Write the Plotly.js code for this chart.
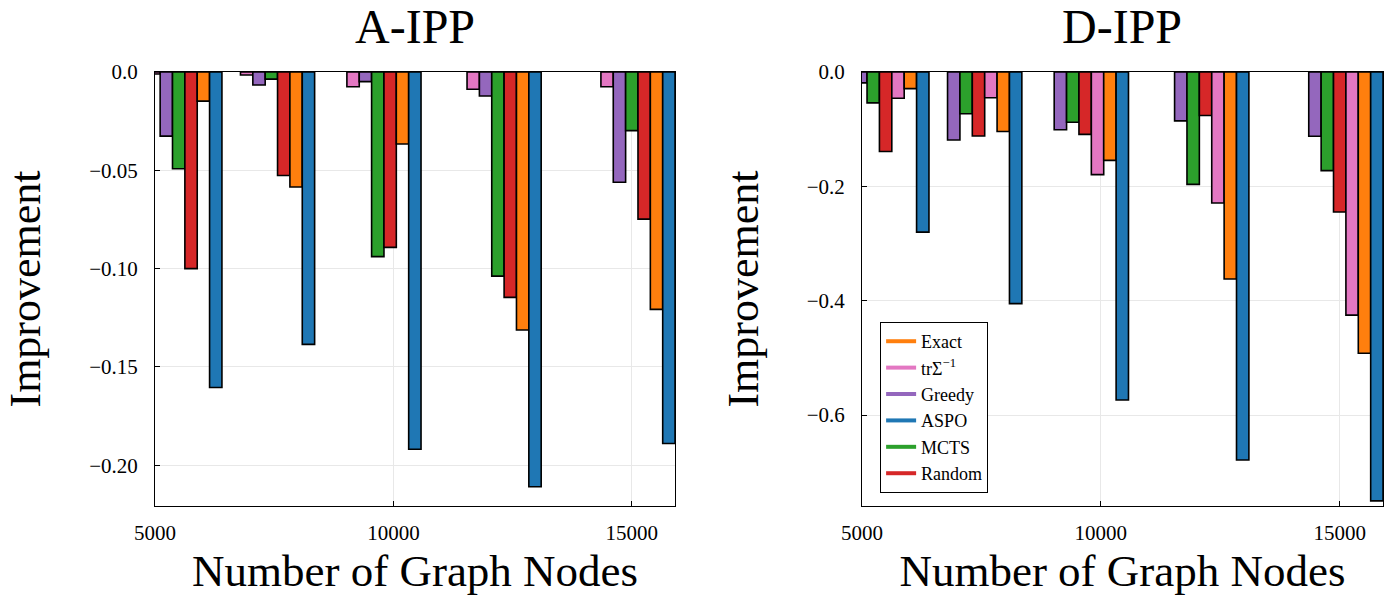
<!DOCTYPE html>
<html>
<head>
<meta charset="utf-8">
<script src="https://cdn.plot.ly/plotly-3.0.1.min.js"></script>
<style>html,body{margin:0;padding:0;background:#fff;}#chart{width:1397px;height:596px;}</style>
</head>
<body>
<div id="chart"></div>
<script>
// Number of graph nodes (group positions)
const nodes = [5625, 7569, 9801, 12321, 15129];
const xTicks = [5000, 10000, 15000];

// A-IPP improvements
const aTr     = [-0.0010, -0.0015, -0.0075, -0.0088, -0.0075];
const aGreedy = [-0.0326, -0.0066, -0.0049, -0.0122, -0.0561];
const aMCTS   = [-0.0492, -0.0036, -0.0939, -0.1038, -0.0298];
const aRandom = [-0.1000, -0.0526, -0.0892, -0.1146, -0.0748];
const aExact  = [-0.0148, -0.0585, -0.0366, -0.1312, -0.1207];
const aASPO   = [-0.1604, -0.1385, -0.1918, -0.2109, -0.1889];

// D-IPP improvements
const dGreedy = [-0.019, -0.119, -0.101, -0.0855, -0.1124];
const dMCTS   = [-0.054, -0.073, -0.088, -0.1965, -0.1725];
const dRandom = [-0.139, -0.112, -0.109, -0.076, -0.2448];
const dTr     = [-0.046, -0.045, -0.1795, -0.229, -0.4252];
const dExact  = [-0.029, -0.104, -0.1545, -0.362, -0.4918];
const dASPO   = [-0.280, -0.405, -0.5736, -0.6786, -0.750];

const aTicks = [0, -0.05, -0.10, -0.15, -0.20];
const aTickText = ['0.0', '\u22120.05', '\u22120.10', '\u22120.15', '\u22120.20'];
const dTicks = [0, -0.2, -0.4, -0.6];
const dTickText = ['0.0', '\u22120.2', '\u22120.4', '\u22120.6'];

const legendNames = ['Exact', 'tr\u03A3<sup>\u22121</sup>', 'Greedy', 'ASPO', 'MCTS', 'Random'];

const C = {
  Exact: '#ff7f0e', Tr: '#e377c2', Greedy: '#9467bd',
  ASPO: '#1f77b4', MCTS: '#2ca02c', Random: '#d62728'
};

const FONT = 'Liberation Serif, Times New Roman, serif';

function bar(y, color, xa, ya) {
  return {
    type: 'bar', x: nodes, y: y, xaxis: xa, yaxis: ya,
    marker: {color: color, line: {color: '#000', width: 1.6}},
    showlegend: false, hoverinfo: 'x+y'
  };
}

const traces = [
  bar(aTr, C.Tr, 'x', 'y'),
  bar(aGreedy, C.Greedy, 'x', 'y'),
  bar(aMCTS, C.MCTS, 'x', 'y'),
  bar(aRandom, C.Random, 'x', 'y'),
  bar(aExact, C.Exact, 'x', 'y'),
  bar(aASPO, C.ASPO, 'x', 'y'),
  bar(dGreedy, C.Greedy, 'x2', 'y2'),
  bar(dMCTS, C.MCTS, 'x2', 'y2'),
  bar(dRandom, C.Random, 'x2', 'y2'),
  bar(dTr, C.Tr, 'x2', 'y2'),
  bar(dExact, C.Exact, 'x2', 'y2'),
  bar(dASPO, C.ASPO, 'x2', 'y2')
];

// legend entries (line style, as in the reference)
const legendColors = [C.Exact, C.Tr, C.Greedy, C.ASPO, C.MCTS, C.Random];
legendNames.forEach(function (n, i) {
  traces.push({
    type: 'scatter', mode: 'lines', x: [null], y: [null],
    xaxis: 'x2', yaxis: 'y2', name: n,
    line: {color: legendColors[i], width: 4}, showlegend: true
  });
});

function xax(domain, anchor) {
  return {
    domain: domain, anchor: anchor, range: [5000, 15906],
    tickmode: 'array', tickvals: xTicks, ticktext: xTicks.map(String),
    ticks: 'inside', ticklen: 5, tickcolor: '#000',
    showline: true, linecolor: '#000', linewidth: 1, mirror: true,
    showgrid: true, gridcolor: '#e8e8e8', gridwidth: 1, zeroline: false,
    tickfont: {family: FONT, size: 21, color: '#000'},
    ticklabelstandoff: 8,
    title: {text: 'Number of Graph Nodes', font: {family: FONT, size: 45, color: '#000'}, standoff: 10}
  };
}
function yax(domain, anchor, range, tv, tt) {
  return {
    domain: domain, anchor: anchor, range: range,
    tickmode: 'array', tickvals: tv, ticktext: tt,
    ticks: 'inside', ticklen: 5, tickcolor: '#000',
    showline: true, linecolor: '#000', linewidth: 1, mirror: true,
    showgrid: true, gridcolor: '#e8e8e8', gridwidth: 1, zeroline: false,
    tickfont: {family: FONT, size: 21, color: '#000'},
    ticklabelstandoff: 12,
    title: {text: 'Improvement', font: {family: FONT, size: 44, color: '#000'}, standoff: 34}
  };
}

const yDom = [0.1510, 0.8792];
const layout = {
  width: 1397, height: 596,
  margin: {l: 0, r: 0, t: 0, b: 0},
  paper_bgcolor: '#fff', plot_bgcolor: '#fff',
  barmode: 'group', bargap: 0.2, bargroupgap: 0,
  xaxis: xax([0.1110, 0.4832], 'y'),
  yaxis: yax(yDom, 'x', [-0.2207, 0], aTicks, aTickText),
  xaxis2: xax([0.6170, 0.9900], 'y2'),
  yaxis2: yax(yDom, 'x2', [-0.759, 0], dTicks, dTickText),
  showlegend: true,
  legend: {
    x: 0.6300, y: 0.4597, xanchor: 'left', yanchor: 'top',
    bgcolor: '#fff', bordercolor: '#000', borderwidth: 1,
    font: {family: FONT, size: 18, color: '#000'},
    tracegroupgap: 0, itemwidth: 30
  },
  annotations: [
    {text: 'A-IPP', xref: 'paper', yref: 'paper', x: 0.2971, y: 0.955, xanchor: 'center', yanchor: 'middle',
     showarrow: false, font: {family: FONT, size: 48, color: '#000'}},
    {text: 'D-IPP', xref: 'paper', yref: 'paper', x: 0.8035, y: 0.955, xanchor: 'center', yanchor: 'middle',
     showarrow: false, font: {family: FONT, size: 48, color: '#000'}}
  ]
};

Plotly.newPlot('chart', traces, layout, {displayModeBar: false, staticPlot: true});
</script>
</body>
</html>
